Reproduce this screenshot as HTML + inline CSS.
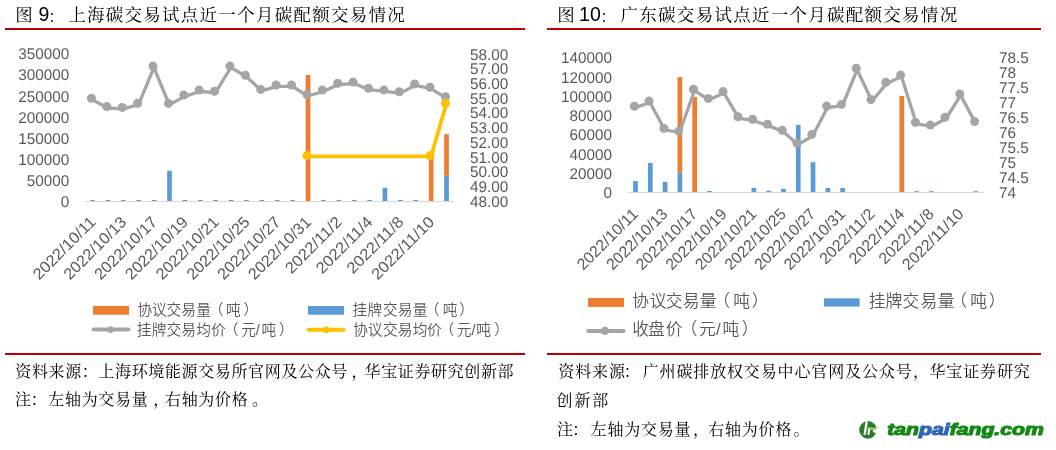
<!DOCTYPE html>
<html><head><meta charset="utf-8"><title>碳交易试点</title>
<style>
html,body{margin:0;padding:0;background:#fff;width:1056px;height:450px;overflow:hidden}
svg{display:block}
.num{text-rendering:geometricPrecision;font-family:'Liberation Sans', Arial, sans-serif;font-size:15.5px;fill:#595959}
.dt{font-family:'Liberation Sans', Arial, sans-serif;font-size:15.8px;fill:#595959}
.lg{font-family:'Liberation Sans', 'Noto Sans CJK SC', sans-serif;font-weight:350;font-size:14.7px;fill:#595959;text-spacing-trim:space-all}
.tt{font-family:'Liberation Serif', 'Noto Serif CJK SC', serif;font-size:17.5px;fill:#000;text-spacing-trim:space-all}
.tn{font-family:'Liberation Sans',sans-serif;font-size:19.5px;fill:#000}
.src{font-family:'Liberation Serif', 'Noto Serif CJK SC', serif;font-size:16px;fill:#000;text-spacing-trim:space-all}
.wm{font-family:'Liberation Sans',sans-serif;font-weight:bold;font-style:italic;font-size:16px;stroke-width:1.1px;stroke-linejoin:round}
</style></head><body>
<svg width="1056" height="450" viewBox="0 0 1056 450">
<rect width="1056" height="450" fill="#fff"/>
<!-- titles -->
<text x="15.2" y="21" class="tt">图</text>
<text x="38.5" y="20.8" class="tn">9</text><text x="49.6" y="21.6" class="tn" style="font-size:17px">:</text>
<text x="68.2 86.97 105.74 124.51 143.28 162.05 180.82 199.59 218.36 237.13 255.9 274.67 293.44 312.21 330.98 349.75 368.52 387.29" y="21" class="tt">上海碳交易试点近一个月碳配额交易情况</text>
<rect x="5" y="28" width="520" height="2" fill="#C00000"/>
<text x="557.2" y="21" class="tt">图</text>
<text x="579.1" y="20.8" class="tn">10</text><text x="601.6" y="21.6" class="tn" style="font-size:17px">:</text>
<text x="620.55 639.32 658.09 676.86 695.63 714.4 733.17 751.94 770.71 789.48 808.25 827.02 845.79 864.56 883.33 902.1 920.87 939.64" y="21" class="tt">广东碳交易试点近一个月碳配额交易情况</text>
<rect x="547" y="28" width="494" height="2" fill="#C00000"/>
<rect x="84.7" y="201" width="369.6" height="1" fill="#D9D9D9"/>
<rect x="90.2" y="200" width="4.7" height="1" fill="#5B9BD5"/>
<rect x="105.59" y="200" width="4.7" height="1" fill="#5B9BD5"/>
<rect x="120.98" y="200" width="4.7" height="1" fill="#5B9BD5"/>
<rect x="136.37" y="200" width="4.7" height="1" fill="#5B9BD5"/>
<rect x="151.76" y="200" width="4.7" height="1" fill="#5B9BD5"/>
<rect x="167.15" y="170.8" width="4.7" height="30.2" fill="#5B9BD5"/>
<rect x="182.54" y="200" width="4.7" height="1" fill="#5B9BD5"/>
<rect x="197.93" y="200" width="4.7" height="1" fill="#5B9BD5"/>
<rect x="213.32" y="200" width="4.7" height="1" fill="#5B9BD5"/>
<rect x="228.71" y="200" width="4.7" height="1" fill="#5B9BD5"/>
<rect x="244.1" y="200" width="4.7" height="1" fill="#5B9BD5"/>
<rect x="259.49" y="200" width="4.7" height="1" fill="#5B9BD5"/>
<rect x="274.88" y="200" width="4.7" height="1" fill="#5B9BD5"/>
<rect x="290.27" y="200" width="4.7" height="1" fill="#5B9BD5"/>
<rect x="305.66" y="75" width="4.7" height="126" fill="#ED7D31"/>
<rect x="321.05" y="200" width="4.7" height="1" fill="#5B9BD5"/>
<rect x="336.44" y="200" width="4.7" height="1" fill="#5B9BD5"/>
<rect x="351.83" y="200" width="4.7" height="1" fill="#5B9BD5"/>
<rect x="367.22" y="200" width="4.7" height="1" fill="#5B9BD5"/>
<rect x="382.61" y="187.8" width="4.7" height="13.2" fill="#5B9BD5"/>
<rect x="398" y="200" width="4.7" height="1" fill="#5B9BD5"/>
<rect x="413.39" y="200" width="4.7" height="1" fill="#5B9BD5"/>
<rect x="428.78" y="156" width="4.7" height="45" fill="#ED7D31"/>
<rect x="444.17" y="175.8" width="4.7" height="25.2" fill="#5B9BD5"/>
<rect x="444.17" y="134.2" width="4.7" height="41.6" fill="#ED7D31"/>
<polyline points="91.45,98.3 106.84,106.6 122.23,107.4 137.62,103.2 153.01,66.1 168.4,103.4 183.79,95 199.18,90.1 214.57,91.2 229.96,66.1 245.35,75.2 260.74,89.4 276.13,85 291.52,85 306.91,94.6 322.3,90.1 337.69,83.2 353.08,82.1 368.47,88.3 383.86,89.9 399.25,91.7 414.64,83.9 430.03,87.2 445.42,96.8" fill="none" stroke="#A5A5A5" stroke-width="3.3" stroke-linejoin="round" transform="translate(0.9 1.4)"/>
<circle cx="91.45" cy="98.3" r="4.5" fill="#A5A5A5"/>
<circle cx="106.84" cy="106.6" r="4.5" fill="#A5A5A5"/>
<circle cx="122.23" cy="107.4" r="4.5" fill="#A5A5A5"/>
<circle cx="137.62" cy="103.2" r="4.5" fill="#A5A5A5"/>
<circle cx="153.01" cy="66.1" r="4.5" fill="#A5A5A5"/>
<circle cx="168.4" cy="103.4" r="4.5" fill="#A5A5A5"/>
<circle cx="183.79" cy="95" r="4.5" fill="#A5A5A5"/>
<circle cx="199.18" cy="90.1" r="4.5" fill="#A5A5A5"/>
<circle cx="214.57" cy="91.2" r="4.5" fill="#A5A5A5"/>
<circle cx="229.96" cy="66.1" r="4.5" fill="#A5A5A5"/>
<circle cx="245.35" cy="75.2" r="4.5" fill="#A5A5A5"/>
<circle cx="260.74" cy="89.4" r="4.5" fill="#A5A5A5"/>
<circle cx="276.13" cy="85" r="4.5" fill="#A5A5A5"/>
<circle cx="291.52" cy="85" r="4.5" fill="#A5A5A5"/>
<circle cx="306.91" cy="94.6" r="4.5" fill="#A5A5A5"/>
<circle cx="322.3" cy="90.1" r="4.5" fill="#A5A5A5"/>
<circle cx="337.69" cy="83.2" r="4.5" fill="#A5A5A5"/>
<circle cx="353.08" cy="82.1" r="4.5" fill="#A5A5A5"/>
<circle cx="368.47" cy="88.3" r="4.5" fill="#A5A5A5"/>
<circle cx="383.86" cy="89.9" r="4.5" fill="#A5A5A5"/>
<circle cx="399.25" cy="91.7" r="4.5" fill="#A5A5A5"/>
<circle cx="414.64" cy="83.9" r="4.5" fill="#A5A5A5"/>
<circle cx="430.03" cy="87.2" r="4.5" fill="#A5A5A5"/>
<circle cx="445.42" cy="96.8" r="4.5" fill="#A5A5A5"/>
<polyline points="306.91,155.6 430.03,155.6 445.42,103.2" fill="none" stroke="#FFC000" stroke-width="3.7" stroke-linejoin="round" transform="translate(0.9 0.8)"/>
<circle cx="306.91" cy="155.6" r="4.5" fill="#FFC000"/>
<circle cx="430.03" cy="155.6" r="4.5" fill="#FFC000"/>
<circle cx="445.42" cy="103.2" r="4.5" fill="#FFC000"/>
<text x="69.2" y="206.7" text-anchor="end" class="num" textLength="8.51" lengthAdjust="spacingAndGlyphs">0</text>
<text x="69.2" y="185.66" text-anchor="end" class="num" textLength="42.53" lengthAdjust="spacingAndGlyphs">50000</text>
<text x="69.2" y="164.62" text-anchor="end" class="num" textLength="51.04" lengthAdjust="spacingAndGlyphs">100000</text>
<text x="69.2" y="143.58" text-anchor="end" class="num" textLength="51.04" lengthAdjust="spacingAndGlyphs">150000</text>
<text x="69.2" y="122.54" text-anchor="end" class="num" textLength="51.04" lengthAdjust="spacingAndGlyphs">200000</text>
<text x="69.2" y="101.5" text-anchor="end" class="num" textLength="51.04" lengthAdjust="spacingAndGlyphs">250000</text>
<text x="69.2" y="80.46" text-anchor="end" class="num" textLength="51.04" lengthAdjust="spacingAndGlyphs">300000</text>
<text x="69.2" y="59.42" text-anchor="end" class="num" textLength="51.04" lengthAdjust="spacingAndGlyphs">350000</text>
<text x="470" y="206.7" class="num" textLength="38.28" lengthAdjust="spacingAndGlyphs">48.00</text>
<text x="470" y="191.99" class="num" textLength="38.28" lengthAdjust="spacingAndGlyphs">49.00</text>
<text x="470" y="177.28" class="num" textLength="38.28" lengthAdjust="spacingAndGlyphs">50.00</text>
<text x="470" y="162.57" class="num" textLength="38.28" lengthAdjust="spacingAndGlyphs">51.00</text>
<text x="470" y="147.86" class="num" textLength="38.28" lengthAdjust="spacingAndGlyphs">52.00</text>
<text x="470" y="133.15" class="num" textLength="38.28" lengthAdjust="spacingAndGlyphs">53.00</text>
<text x="470" y="118.44" class="num" textLength="38.28" lengthAdjust="spacingAndGlyphs">54.00</text>
<text x="470" y="103.73" class="num" textLength="38.28" lengthAdjust="spacingAndGlyphs">55.00</text>
<text x="470" y="89.02" class="num" textLength="38.28" lengthAdjust="spacingAndGlyphs">56.00</text>
<text x="470" y="74.31" class="num" textLength="38.28" lengthAdjust="spacingAndGlyphs">57.00</text>
<text x="470" y="59.6" class="num" textLength="38.28" lengthAdjust="spacingAndGlyphs">58.00</text>
<text x="96.65" y="223" text-anchor="end" class="dt" textLength="81.3" lengthAdjust="spacingAndGlyphs" transform="rotate(-45 96.65 223)">2022/10/11</text>
<text x="127.43" y="223" text-anchor="end" class="dt" textLength="81.3" lengthAdjust="spacingAndGlyphs" transform="rotate(-45 127.43 223)">2022/10/13</text>
<text x="158.21" y="223" text-anchor="end" class="dt" textLength="81.3" lengthAdjust="spacingAndGlyphs" transform="rotate(-45 158.21 223)">2022/10/17</text>
<text x="188.99" y="223" text-anchor="end" class="dt" textLength="81.3" lengthAdjust="spacingAndGlyphs" transform="rotate(-45 188.99 223)">2022/10/19</text>
<text x="219.77" y="223" text-anchor="end" class="dt" textLength="81.3" lengthAdjust="spacingAndGlyphs" transform="rotate(-45 219.77 223)">2022/10/21</text>
<text x="250.55" y="223" text-anchor="end" class="dt" textLength="81.3" lengthAdjust="spacingAndGlyphs" transform="rotate(-45 250.55 223)">2022/10/25</text>
<text x="281.33" y="223" text-anchor="end" class="dt" textLength="81.3" lengthAdjust="spacingAndGlyphs" transform="rotate(-45 281.33 223)">2022/10/27</text>
<text x="312.11" y="223" text-anchor="end" class="dt" textLength="81.3" lengthAdjust="spacingAndGlyphs" transform="rotate(-45 312.11 223)">2022/10/31</text>
<text x="342.89" y="223" text-anchor="end" class="dt" textLength="72.76" lengthAdjust="spacingAndGlyphs" transform="rotate(-45 342.89 223)">2022/11/2</text>
<text x="373.67" y="223" text-anchor="end" class="dt" textLength="72.76" lengthAdjust="spacingAndGlyphs" transform="rotate(-45 373.67 223)">2022/11/4</text>
<text x="404.45" y="223" text-anchor="end" class="dt" textLength="72.76" lengthAdjust="spacingAndGlyphs" transform="rotate(-45 404.45 223)">2022/11/8</text>
<text x="435.23" y="223" text-anchor="end" class="dt" textLength="81.3" lengthAdjust="spacingAndGlyphs" transform="rotate(-45 435.23 223)">2022/11/10</text>
<rect x="627.3" y="192" width="356" height="1" fill="#D9D9D9"/>
<rect x="633.15" y="181.1" width="4.7" height="10.9" fill="#5B9BD5"/>
<rect x="647.94" y="162.9" width="4.7" height="29.1" fill="#5B9BD5"/>
<rect x="662.74" y="181.8" width="4.7" height="10.2" fill="#5B9BD5"/>
<rect x="677.53" y="172.9" width="4.7" height="19.1" fill="#5B9BD5"/>
<rect x="677.53" y="77.1" width="4.7" height="95.8" fill="#ED7D31"/>
<rect x="692.33" y="97.1" width="4.7" height="94.9" fill="#ED7D31"/>
<rect x="707.12" y="190.9" width="4.7" height="1.1" fill="#5B9BD5"/>
<rect x="751.51" y="188" width="4.7" height="4" fill="#5B9BD5"/>
<rect x="766.3" y="190.8" width="4.7" height="1.2" fill="#5B9BD5"/>
<rect x="781.1" y="188.9" width="4.7" height="3.1" fill="#5B9BD5"/>
<rect x="795.89" y="125" width="4.7" height="67" fill="#5B9BD5"/>
<rect x="810.69" y="162.2" width="4.7" height="29.8" fill="#5B9BD5"/>
<rect x="825.49" y="188" width="4.7" height="4" fill="#5B9BD5"/>
<rect x="840.28" y="188" width="4.7" height="4" fill="#5B9BD5"/>
<rect x="899.46" y="96" width="4.7" height="96" fill="#ED7D31"/>
<rect x="914.25" y="191.2" width="4.7" height="0.8" fill="#5B9BD5"/>
<rect x="929.05" y="191.2" width="4.7" height="0.8" fill="#5B9BD5"/>
<rect x="973.44" y="191.2" width="4.7" height="0.8" fill="#5B9BD5"/>
<polyline points="634.3,106.2 649.09,101.1 663.89,128.4 678.68,131.1 693.48,89.3 708.27,98.4 723.07,91.6 737.87,116.7 752.66,119.3 767.45,124.2 782.25,130.2 797.04,143.3 811.84,134.4 826.63,106.1 841.43,104.4 856.22,68.2 871.02,99.6 885.81,82.2 900.61,75.1 915.4,122.2 930.2,125.1 944.99,117.3 959.79,94 974.59,121.6" fill="none" stroke="#A5A5A5" stroke-width="3.3" stroke-linejoin="round" transform="translate(0.9 1.4)"/>
<circle cx="634.3" cy="106.2" r="4.5" fill="#A5A5A5"/>
<circle cx="649.09" cy="101.1" r="4.5" fill="#A5A5A5"/>
<circle cx="663.89" cy="128.4" r="4.5" fill="#A5A5A5"/>
<circle cx="678.68" cy="131.1" r="4.5" fill="#A5A5A5"/>
<circle cx="693.48" cy="89.3" r="4.5" fill="#A5A5A5"/>
<circle cx="708.27" cy="98.4" r="4.5" fill="#A5A5A5"/>
<circle cx="723.07" cy="91.6" r="4.5" fill="#A5A5A5"/>
<circle cx="737.87" cy="116.7" r="4.5" fill="#A5A5A5"/>
<circle cx="752.66" cy="119.3" r="4.5" fill="#A5A5A5"/>
<circle cx="767.45" cy="124.2" r="4.5" fill="#A5A5A5"/>
<circle cx="782.25" cy="130.2" r="4.5" fill="#A5A5A5"/>
<circle cx="797.04" cy="143.3" r="4.5" fill="#A5A5A5"/>
<circle cx="811.84" cy="134.4" r="4.5" fill="#A5A5A5"/>
<circle cx="826.63" cy="106.1" r="4.5" fill="#A5A5A5"/>
<circle cx="841.43" cy="104.4" r="4.5" fill="#A5A5A5"/>
<circle cx="856.22" cy="68.2" r="4.5" fill="#A5A5A5"/>
<circle cx="871.02" cy="99.6" r="4.5" fill="#A5A5A5"/>
<circle cx="885.81" cy="82.2" r="4.5" fill="#A5A5A5"/>
<circle cx="900.61" cy="75.1" r="4.5" fill="#A5A5A5"/>
<circle cx="915.4" cy="122.2" r="4.5" fill="#A5A5A5"/>
<circle cx="930.2" cy="125.1" r="4.5" fill="#A5A5A5"/>
<circle cx="944.99" cy="117.3" r="4.5" fill="#A5A5A5"/>
<circle cx="959.79" cy="94" r="4.5" fill="#A5A5A5"/>
<circle cx="974.59" cy="121.6" r="4.5" fill="#A5A5A5"/>
<text x="612" y="198" text-anchor="end" class="num" textLength="8.51" lengthAdjust="spacingAndGlyphs">0</text>
<text x="612" y="178.76" text-anchor="end" class="num" textLength="42.53" lengthAdjust="spacingAndGlyphs">20000</text>
<text x="612" y="159.52" text-anchor="end" class="num" textLength="42.53" lengthAdjust="spacingAndGlyphs">40000</text>
<text x="612" y="140.28" text-anchor="end" class="num" textLength="42.53" lengthAdjust="spacingAndGlyphs">60000</text>
<text x="612" y="121.04" text-anchor="end" class="num" textLength="42.53" lengthAdjust="spacingAndGlyphs">80000</text>
<text x="612" y="101.8" text-anchor="end" class="num" textLength="51.04" lengthAdjust="spacingAndGlyphs">100000</text>
<text x="612" y="82.56" text-anchor="end" class="num" textLength="51.04" lengthAdjust="spacingAndGlyphs">120000</text>
<text x="612" y="63.32" text-anchor="end" class="num" textLength="51.04" lengthAdjust="spacingAndGlyphs">140000</text>
<text x="999" y="197.8" class="num" textLength="17.01" lengthAdjust="spacingAndGlyphs">74</text>
<text x="999" y="182.87" class="num" textLength="29.77" lengthAdjust="spacingAndGlyphs">74.5</text>
<text x="999" y="167.94" class="num" textLength="17.01" lengthAdjust="spacingAndGlyphs">75</text>
<text x="999" y="153.01" class="num" textLength="29.77" lengthAdjust="spacingAndGlyphs">75.5</text>
<text x="999" y="138.08" class="num" textLength="17.01" lengthAdjust="spacingAndGlyphs">76</text>
<text x="999" y="123.15" class="num" textLength="29.77" lengthAdjust="spacingAndGlyphs">76.5</text>
<text x="999" y="108.22" class="num" textLength="17.01" lengthAdjust="spacingAndGlyphs">77</text>
<text x="999" y="93.29" class="num" textLength="29.77" lengthAdjust="spacingAndGlyphs">77.5</text>
<text x="999" y="78.36" class="num" textLength="17.01" lengthAdjust="spacingAndGlyphs">78</text>
<text x="999" y="63.43" class="num" textLength="29.77" lengthAdjust="spacingAndGlyphs">78.5</text>
<text x="639" y="215" text-anchor="end" class="dt" textLength="79" lengthAdjust="spacingAndGlyphs" transform="rotate(-45 639 215)">2022/10/11</text>
<text x="668.59" y="215" text-anchor="end" class="dt" textLength="79" lengthAdjust="spacingAndGlyphs" transform="rotate(-45 668.59 215)">2022/10/13</text>
<text x="698.18" y="215" text-anchor="end" class="dt" textLength="79" lengthAdjust="spacingAndGlyphs" transform="rotate(-45 698.18 215)">2022/10/17</text>
<text x="727.77" y="215" text-anchor="end" class="dt" textLength="79" lengthAdjust="spacingAndGlyphs" transform="rotate(-45 727.77 215)">2022/10/19</text>
<text x="757.36" y="215" text-anchor="end" class="dt" textLength="79" lengthAdjust="spacingAndGlyphs" transform="rotate(-45 757.36 215)">2022/10/21</text>
<text x="786.95" y="215" text-anchor="end" class="dt" textLength="79" lengthAdjust="spacingAndGlyphs" transform="rotate(-45 786.95 215)">2022/10/25</text>
<text x="816.54" y="215" text-anchor="end" class="dt" textLength="79" lengthAdjust="spacingAndGlyphs" transform="rotate(-45 816.54 215)">2022/10/27</text>
<text x="846.13" y="215" text-anchor="end" class="dt" textLength="79" lengthAdjust="spacingAndGlyphs" transform="rotate(-45 846.13 215)">2022/10/31</text>
<text x="875.72" y="215" text-anchor="end" class="dt" textLength="70.7" lengthAdjust="spacingAndGlyphs" transform="rotate(-45 875.72 215)">2022/11/2</text>
<text x="905.31" y="215" text-anchor="end" class="dt" textLength="70.7" lengthAdjust="spacingAndGlyphs" transform="rotate(-45 905.31 215)">2022/11/4</text>
<text x="934.9" y="215" text-anchor="end" class="dt" textLength="70.7" lengthAdjust="spacingAndGlyphs" transform="rotate(-45 934.9 215)">2022/11/8</text>
<text x="964.49" y="215" text-anchor="end" class="dt" textLength="79" lengthAdjust="spacingAndGlyphs" transform="rotate(-45 964.49 215)">2022/11/10</text>
<rect x="93" y="306" width="36" height="8.7" fill="#ED7D31"/>
<text x="137.56 152.06 166.56 181.16 196.36 208.7 226.06 243.6" y="314.7" class="lg" style="font-size:14.7px">协议交易量（吨）</text>
<rect x="308" y="306" width="36" height="8.7" fill="#5B9BD5"/>
<text x="352.56 367.56 382.96 397.66 412.86 424.8 442.66 459.3" y="314.7" class="lg" style="font-size:14.7px">挂牌交易量（吨）</text>
<line x1="93.5" y1="329.6" x2="128.4" y2="329.6" stroke="#A5A5A5" stroke-width="4" stroke-linecap="round"/>
<circle cx="110.6" cy="329.6" r="3.4" fill="#A5A5A5"/>
<text x="136.66 151.86 166.46 181.16 196.36 210.96 223.8 241.16 255.8 261.56 279.1" y="334.6" class="lg" style="font-size:14.7px">挂牌交易均价（元/吨）</text>
<line x1="308.6" y1="329.8" x2="343.5" y2="329.8" stroke="#FFC000" stroke-width="4" stroke-linecap="round"/>
<circle cx="326.1" cy="329.8" r="3.4" fill="#FFC000"/>
<text x="353.16 367.86 382.96 397.66 412.86 427.06 439.4 456.86 471.5 476.26 494.3" y="334.6" class="lg" style="font-size:14.7px">协议交易均价（元/吨）</text>
<rect x="588" y="298" width="36" height="8.9" fill="#ED7D31"/>
<text x="632.3 649.8 665.7 682.7 699.8 713.19 733.2 751.65" y="306.5" class="lg" style="font-size:16.8px">协议交易量（吨）</text>
<rect x="824" y="298.3" width="35.6" height="8.3" fill="#5B9BD5"/>
<text x="868.8 885.4 902.6 920.5 937.7 950.29 970.2 988.85" y="306.5" class="lg" style="font-size:16.8px">挂牌交易量（吨）</text>
<line x1="588.1" y1="330.9" x2="623.6" y2="330.9" stroke="#A5A5A5" stroke-width="4" stroke-linecap="round"/>
<circle cx="605" cy="330.9" r="4.2" fill="#A5A5A5"/>
<text x="632.3 647.9 665.7 680.59 699.1 715.9 722.5 741.75" y="335.3" class="lg" style="font-size:16.8px">收盘价（元/吨）</text>
<rect x="5" y="353" width="520" height="2" fill="#C00000"/>
<rect x="547" y="353" width="494" height="2" fill="#C00000"/>
<text x="15.3 31.93 48.56 65.19 81.82 98.45 115.08 131.71 148.34 164.97 181.6 198.23 214.86 231.49 248.12 264.75 281.38 298.01 314.64 331.27 351.6 364.53 381.16 397.79 414.42 431.05 447.68 464.31 480.94 497.57" y="377" class="src">资料来源：上海环境能源交易所官网及公众号，华宝证券研究创新部</text>
<text x="15 30.87 48.34 65.01 81.68 98.35 115.02 131.69 153.36 165.03 181.7 198.37 215.04 231.71 251.98" y="405.4" class="src">注：左轴为交易量，右轴为价格。</text>
<text x="558.3 575.17 592.04 608.91 623.78 642.65 659.52 676.39 693.26 710.13 727 743.87 760.74 777.61 794.48 811.35 828.22 845.09 861.96 878.83 895.7 913.07 929.44 946.31 963.18 980.05 996.92 1013.79" y="377" class="src">资料来源：广州碳排放权交易中心官网及公众号，华宝证券研究</text>
<text x="556.6 574.4 592.2" y="406" class="src">创新部</text>
<text x="557 572.3 590.6 607.4 624.2 641 657.8 674.6 692.9 708.2 725 741.8 758.6 775.4 793.5" y="435" class="src">注：左轴为交易量，右轴为价格。</text>
<!-- watermark -->
<circle cx="868" cy="429.9" r="8.8" fill="#2B7A2E"/>
<path d="M875.5,427.2 C877.5,428.2 877.5,432 876,433.5 L872.5,431.5 Z" fill="#fff"/>
<path d="M865.6,421.2 L867.9,421.2 L865.8,434.8 L863.5,434.8 Z" fill="#fff"/>
<path d="M868.5,428 L870.6,428 L869.4,434.8 L867.3,434.8 Z" fill="#fff"/>
<path d="M867.6,427.6 C870.5,426.2 872.5,428.8 877,427.4 L876.8,429.6 C872.5,430.6 870.5,428.8 867.4,429.4 Z" fill="#A8D84A"/>
<text x="887.3" y="434.5" class="wm" textLength="156.5" lengthAdjust="spacingAndGlyphs"><tspan fill="#148A14" stroke="#148A14">tan</tspan><tspan fill="#2F66B3" stroke="#2F66B3">pai</tspan><tspan fill="#148A14" stroke="#148A14">fang.com</tspan></text>
</svg>
</body></html>
